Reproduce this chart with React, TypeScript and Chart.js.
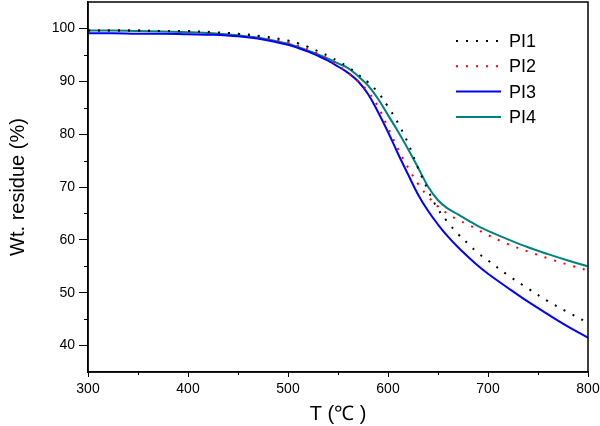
import { useEffect, useRef } from "react";
import { Chart, registerables, type Plugin } from "chart.js";

Chart.register(...registerables);

const temps = [
  300, 325, 350, 375, 400, 425, 450, 475, 500, 510, 520, 530, 540, 550, 560, 570, 580, 590,
  600, 610, 620, 630, 640, 650, 660, 670, 680, 690, 700, 720, 740, 760, 780, 800,
];

const pi1 = [
  99.6, 99.6, 99.6, 99.5, 99.5, 99.3, 99.0, 98.5, 97.7, 97.2, 96.5, 95.7, 94.8, 93.8, 92.7,
  91.3, 89.8, 87.9, 85.2, 82.1, 78.3, 73.6, 69.4, 65.8, 63.3, 61.1, 59.3, 57.5, 56.1, 53.3,
  50.8, 48.4, 46.3, 44.3,
];
const pi2 = [
  99.6, 99.6, 99.6, 99.5, 99.4, 99.2, 98.9, 98.3, 97.3, 96.7, 96.0, 95.2, 94.2, 93.0, 91.6,
  90.0, 88.1, 85.2, 81.2, 77.2, 73.7, 70.6, 68.2, 66.3, 64.9, 63.8, 62.9, 61.9, 60.9, 59.2,
  57.8, 56.5, 55.3, 54.2,
];
const pi3 = [
  99.1, 99.1, 99.0, 99.0, 98.9, 98.8, 98.5, 97.9, 96.9, 96.3, 95.6, 94.8, 93.9, 92.8, 91.6,
  90.0, 87.6, 84.2, 80.4, 76.3, 72.4, 68.6, 65.5, 62.9, 60.6, 58.6, 56.8, 55.1, 53.6, 50.9,
  48.3, 45.9, 43.6, 41.5,
];
const pi4 = [
  99.6, 99.6, 99.5, 99.4, 99.3, 99.1, 98.7, 98.1, 97.1, 96.5, 95.8, 95.1, 94.3, 93.4, 92.5,
  91.0, 89.2, 86.7, 83.6, 80.5, 77.2, 73.7, 70.1, 67.5, 65.9, 64.8, 63.7, 62.6, 61.7, 60.1,
  58.6, 57.3, 56.1, 55.0,
];

const seriesNames = ["PI1", "PI2", "PI3", "PI4"];
const seriesColors = ["#000000", "#ff0000", "#0000ff", "#008080"];
const seriesDashes = [[2, 8], [2, 8], [], []];

const FONT = "'Liberation Sans', Arial, sans-serif";

// frame, minor ticks and the in-plot legend
const extras: Plugin = {
  id: "extras",
  afterDraw(chart) {
    const { ctx, chartArea: a } = chart;
    const xs = chart.scales.x;
    const ys = chart.scales.y;
    ctx.save();
    ctx.strokeStyle = "#000";
    ctx.lineWidth = 1.5;
    ctx.strokeRect(a.left, a.top, a.right - a.left, a.bottom - a.top);

    ctx.lineWidth = 1;
    ctx.beginPath();
    for (let v = 350; v < 800; v += 100) {
      const px = Math.round(xs.getPixelForValue(v)) + 0.5;
      ctx.moveTo(px, a.bottom);
      ctx.lineTo(px, a.bottom + 3);
    }
    for (let v = 45; v < 105; v += 10) {
      const py = Math.round(ys.getPixelForValue(v)) + 0.5;
      ctx.moveTo(a.left - 4, py);
      ctx.lineTo(a.left, py);
    }
    ctx.stroke();

    chart.data.datasets.forEach((d, i) => {
      const y = 41 + i * 25.3;
      ctx.beginPath();
      ctx.strokeStyle = d.borderColor as string;
      ctx.lineWidth = 2;
      ctx.setLineDash(seriesDashes[i]);
      ctx.moveTo(456, y);
      ctx.lineTo(501, y);
      ctx.stroke();
      ctx.setLineDash([]);
      ctx.fillStyle = "#000";
      ctx.font = `18px ${FONT}`;
      ctx.textAlign = "left";
      ctx.textBaseline = "middle";
      ctx.fillText(d.label as string, 509, y + 1);
    });
    ctx.restore();
  },
};

export default function App() {
  const canvasRef = useRef<HTMLCanvasElement>(null);

  useEffect(() => {
    document.body.style.margin = "0";
    if (!canvasRef.current) return;
    const all = [pi1, pi2, pi3, pi4];
    const chart = new Chart(canvasRef.current, {
      type: "line",
      data: {
        datasets: all.map((vals, i) => ({
          label: seriesNames[i],
          data: temps.map((t, j) => ({ x: t, y: vals[j] })),
          borderColor: seriesColors[i],
          borderWidth: 2,
          borderDash: seriesDashes[i],
          pointRadius: 0,
          tension: 0.4,
          fill: false,
        })),
      },
      options: {
        animation: false,
        responsive: false,
        devicePixelRatio: 1,
        layout: { padding: { top: 2, right: 12, left: 0, bottom: 0 } },
        plugins: { legend: { display: false }, tooltip: { enabled: false } },
        scales: {
          x: {
            type: "linear",
            min: 300,
            max: 800,
            afterFit: (s) => {
              s.height = 54;
              s.paddingLeft = 0;
              s.paddingRight = 0;
            },
            ticks: {
              stepSize: 100,
              color: "#000",
              padding: 4,
              maxRotation: 0,
              font: { family: FONT, size: 14 },
            },
            grid: { drawOnChartArea: false, tickLength: 5, color: "#000", tickColor: "#000" },
            border: { color: "#000", width: 1.5 },
            title: {
              display: true,
              text: "T (℃ )",
              color: "#000",
              font: { family: FONT, size: 20 },
              padding: { top: 0, bottom: 0 },
            },
          },
          y: {
            min: 35,
            max: 105,
            afterFit: (s) => {
              s.width = 88;
              s.paddingTop = 0;
              s.paddingBottom = 0;
            },
            afterBuildTicks: (s) => {
              s.ticks = [40, 50, 60, 70, 80, 90, 100].map((v) => ({ value: v }));
            },
            ticks: {
              color: "#000",
              padding: 4,
              font: { family: FONT, size: 14 },
            },
            grid: { drawOnChartArea: false, tickLength: 9, color: "#000", tickColor: "#000" },
            border: { color: "#000", width: 1.5 },
            title: {
              display: true,
              text: "Wt. residue (%)",
              color: "#000",
              font: { family: FONT, size: 20 },
              padding: { top: 6, bottom: 0 },
            },
          },
        },
      },
      plugins: [extras],
    });
    return () => chart.destroy();
  }, []);

  return (
    <div style={{ width: 600, height: 426, background: "#fff" }}>
      <canvas ref={canvasRef} width={600} height={426} />
    </div>
  );
}
